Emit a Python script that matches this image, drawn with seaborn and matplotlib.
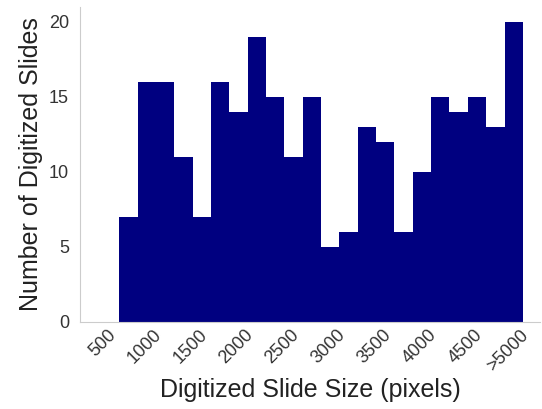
import numpy as np
import seaborn as sns
from matplotlib import pyplot as plt
from matplotlib import transforms

# histogram bins (200 px wide), last bin holds everything >5000
bin_edges = list(range(600, 5001, 200))
counts = [7, 16, 16, 11, 7, 16, 14, 19, 15, 11, 15,
          5, 6, 13, 12, 6, 10, 15, 14, 15, 13, 20]
tick_values = [500, 1000, 1500, 2000, 2500, 3000, 3500, 4000, 4500, 5000]
tick_labels = ["500", "1000", "1500", "2000", "2500", "3000",
               "3500", "4000", "4500", ">5000"]

sns.set_style("white")
plt.rcParams["font.family"] = ["Liberation Sans", "DejaVu Sans"]

centers = [(a + b) / 2 for a, b in zip(bin_edges[:-1], bin_edges[1:])]

fig = plt.figure(figsize=(5.42, 4.09), dpi=100)
ax = fig.add_axes([0.148, 0.213, 0.848, 0.770])
sns.histplot(x=centers, weights=counts, bins=bin_edges, color="#000080",
             alpha=1, edgecolor="none", linewidth=0, ax=ax)

ax.set_xlim(175, 5185)
ax.set_ylim(0, 21)
ax.set_yticks([0, 5, 10, 15, 20])
ax.set_xticks(tick_values)
ax.set_xticklabels(tick_labels, rotation=45, ha="right")
ax.tick_params(labelsize=13, length=0, colors="#333333")
ax.tick_params(axis="y", pad=8)

# nudge rotated labels a little to the right, like the original
shift = transforms.ScaledTranslation(0.09, 0, fig.dpi_scale_trans)
for lbl in ax.get_xticklabels():
    lbl.set_transform(lbl.get_transform() + shift)

ax.set_xlabel("Digitized Slide Size (pixels)", fontsize=18, color="#222222",
              labelpad=2)
ax.set_ylabel("Number of Digitized Slides", fontsize=18, color="#222222",
              labelpad=4)
sns.despine(ax=ax)
for s in ["left", "bottom"]:
    ax.spines[s].set_color("#cccccc")

fig.savefig("out.png", dpi=100)
